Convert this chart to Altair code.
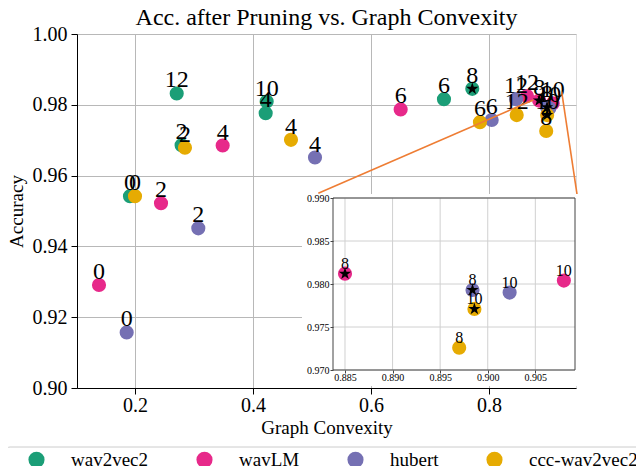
import altair as alt
import pandas as pd

FONT = "Liberation Serif"
STAR = ("M0,-1L0.2245,-0.309L0.9511,-0.309L0.3633,0.118L0.5878,0.809L0,0.382"
        "L-0.5878,0.809L-0.3633,0.118L-0.9511,-0.309L-0.2245,-0.309Z")

# ---------------- data ----------------
models = ["wav2vec2", "wavLM", "hubert", "ccc-wav2vec2"]
colors = ["#1b9e77", "#e7298a", "#7570b3", "#e6ab02"]
layers = [0, 2, 4, 6, 8, 10, 12]

conv_wav2vec2 = [0.1915, 0.2790, 0.4215, 0.7237, 0.7717, 0.4232, 0.2707]
acc_wav2vec2 = [0.9542, 0.9686, 0.9776, 0.9816, 0.9845, 0.9809, 0.9832]
conv_wavlm = [0.1390, 0.2441, 0.3486, 0.6503, 0.8850, 0.9080, 0.8644]
acc_wavlm = [0.9291, 0.9522, 0.9685, 0.9787, 0.9812, 0.9804, 0.9825]
conv_hubert = [0.1859, 0.3073, 0.5051, 0.8046, 0.8984, 0.9023, 0.8458]
acc_hubert = [0.9157, 0.9451, 0.9651, 0.9757, 0.9793, 0.9790, 0.9816]
conv_ccc = [0.2000, 0.2847, 0.4644, 0.7847, 0.8970, 0.8986, 0.8470]
acc_ccc = [0.9542, 0.9679, 0.9701, 0.9751, 0.9726, 0.9771, 0.9771]
best_layer = [8, 8, 8, 10]

x_ticks = [0.2, 0.4, 0.6, 0.8]
y_ticks = [0.90, 0.92, 0.94, 0.96, 0.98, 1.00]
inset_x_ticks = [0.885, 0.890, 0.895, 0.900, 0.905]
inset_y_ticks = [0.970, 0.975, 0.980, 0.985, 0.990]

# ---------------- layout ----------------
main_x_domain = [0.1017, 0.9475]
main_y_domain = [0.90, 1.00]
inset_x_domain = [0.88374, 0.90917]
inset_y_domain = [0.970, 0.990]
inset_x_range = [256, 498]   # pixels inside the plot area
inset_y_range = [336, 164]
conn_x = [0.5107, 0.9232]
conn_y = [0.9550, 0.9837]
conn_x2 = [0.8751, 0.9492]
conn_y2 = [0.98136, 0.9548]
backdrop = {"conv": [0.48305], "conv2": [0.95085], "acc": [0.9548], "acc2": [0.9006]}
legend_box = {"conv": [-0.0186], "conv2": [1.40], "acc": [0.88333], "acc2": [0.85]}

convs = [conv_wav2vec2, conv_wavlm, conv_hubert, conv_ccc]
accs = [acc_wav2vec2, acc_wavlm, acc_hubert, acc_ccc]
rows = []
for i, m in enumerate(models):
    for l, c, a in zip(layers, convs[i], accs[i]):
        rows.append({"model": m, "layer": str(l), "conv": c, "acc": a,
                     "best": 1 if l == best_layer[i] else 0})
df = pd.DataFrame(rows)

axis_common = dict(labelFont=FONT, labelColor="black", titleFont=FONT, titleColor="black",
                   titleFontWeight="normal", tickColor="black", domainColor="black",
                   gridColor="#b8b8b8", gridWidth=1, labelFlush=False, labelOverlap=False,
                   tickSize=6, labelFontSize=20, titleFontSize=19)

X = alt.X("conv:Q", scale=alt.Scale(domain=main_x_domain, nice=False, zero=False),
          axis=alt.Axis(orient="bottom", values=x_ticks, format=".1f", title="Graph Convexity",
                        grid=True, labelBaseline="alphabetic", labelPadding=17.5,
                        titleBaseline="alphabetic", titleY=45, **axis_common))
Y = alt.Y("acc:Q", scale=alt.Scale(domain=main_y_domain, nice=False, zero=False),
          axis=alt.Axis(orient="left", values=y_ticks, format=".2f", title="Accuracy", grid=True,
                        labelPadding=4, titleBaseline="alphabetic", titleAngle=270,
                        titleX=-55, titleY=177, **axis_common))
C = alt.Color("model:N", scale=alt.Scale(domain=models, range=colors),
              legend=alt.Legend(title=None, orient="none", legendX=-55, legendY=411,
                                direction="horizontal", columns=4, gridAlign="each",
                                symbolType="circle", symbolSize=260,
                                symbolStrokeWidth=0, symbolOpacity=1,
                                labelFont=FONT, labelFontSize=19, labelColor="black",
                                labelOffset=25, columnPadding=46, padding=5))

base = alt.Chart(df)

m_circles = base.mark_point(filled=True, shape="circle", size=200, opacity=1).encode(
    x=X, y=Y, color=C)
m_stars = base.transform_filter("datum.best == 1").mark_point(
    filled=True, shape=STAR, size=170, color="black", opacity=1).encode(x=X, y=Y)
m_text = base.mark_text(font=FONT, fontSize=24, dy=-6, baseline="alphabetic", color="black").encode(
    x=X, y=Y, text="layer:N")
m_conn = alt.Chart(pd.DataFrame({"conv": conn_x, "acc": conn_y, "conv2": conn_x2, "acc2": conn_y2})
                   ).mark_rule(color="#ee7d34", strokeWidth=1.6, clip=False).encode(
    x=X, y=Y, x2="conv2:Q", y2="acc2:Q")
m_backdrop = alt.Chart(pd.DataFrame(backdrop)).mark_rect(fill="white", clip=False).encode(
    x=X, y=Y, x2="conv2:Q", y2="acc2:Q")
m_legbox = alt.Chart(pd.DataFrame(legend_box)).mark_rect(
    fill="white", stroke="#cccccc", strokeWidth=1, cornerRadius=4, clip=False).encode(
    x=X, y=Y, x2="conv2:Q", y2="acc2:Q")

main = alt.layer(m_circles, m_stars, m_text, m_conn, m_backdrop, m_legbox)

# ---------------- inset axes ----------------
inset_axis_common = dict(labelFont=FONT, labelColor="black", tickColor="#444444", domain=False,
                         grid=False, labelFlush=False, labelOverlap=False, title=None, zindex=1,
                         labelFontSize=10, tickSize=3)
IX = alt.X("conv:Q", scale=alt.Scale(domain=inset_x_domain, range=inset_x_range, nice=False, zero=False),
           axis=alt.Axis(orient="bottom", offset=-18, values=inset_x_ticks, format=".3f",
                         labelBaseline="alphabetic", labelPadding=7.5, **inset_axis_common))
IY = alt.Y("acc:Q", scale=alt.Scale(domain=inset_y_domain, range=inset_y_range, nice=False, zero=False),
           axis=alt.Axis(orient="left", offset=-256, values=inset_y_ticks, format=".3f",
                         labelPadding=1, **inset_axis_common))

in_filter = ("datum.conv >= %r && datum.conv <= %r && datum.acc >= %r && datum.acc <= %r"
             % (inset_x_domain[0], inset_x_domain[1], inset_y_domain[0], inset_y_domain[1]))

gx_df = pd.DataFrame({"conv": inset_x_ticks, "acc": [inset_y_domain[0]] * len(inset_x_ticks),
                      "acc2": [inset_y_domain[1]] * len(inset_x_ticks)})
gy_df = pd.DataFrame({"acc": inset_y_ticks, "conv": [inset_x_domain[0]] * len(inset_y_ticks),
                      "conv2": [inset_x_domain[1]] * len(inset_y_ticks)})
frame_df = pd.DataFrame({"conv": [inset_x_domain[0]], "conv2": [inset_x_domain[1]],
                         "acc": [inset_y_domain[0]], "acc2": [inset_y_domain[1]]})

i_gx = alt.Chart(gx_df).mark_rule(color="#d0d0d0", strokeWidth=1).encode(x=IX, y=IY, y2="acc2:Q")
i_gy = alt.Chart(gy_df).mark_rule(color="#d0d0d0", strokeWidth=1).encode(x=IX, x2="conv2:Q", y=IY)
ibase = base.transform_filter(in_filter)
i_circles = ibase.mark_point(filled=True, shape="circle", size=200, opacity=1).encode(
    x=IX, y=IY, color=C)
i_stars = ibase.transform_filter("datum.best == 1").mark_point(
    filled=True, shape=STAR, size=170, color="black", opacity=1).encode(x=IX, y=IY)
i_text = ibase.mark_text(font=FONT, fontSize=16, dy=-5, baseline="alphabetic", color="black").encode(
    x=IX, y=IY, text="layer:N")
i_frame = alt.Chart(frame_df).mark_rect(filled=False, stroke="#444444", strokeWidth=1).encode(
    x=IX, x2="conv2:Q", y=IY, y2="acc2:Q")

inset = alt.layer(i_gx, i_gy, i_circles, i_stars, i_text, i_frame)

chart = alt.layer(main, inset).resolve_scale(x="independent", y="independent").properties(
    width=499, height=354,
    title=alt.TitleParams("Acc. after Pruning vs. Graph Convexity", font=FONT, fontSize=24,
                          fontWeight="normal", color="black", anchor="middle",
                          frame="group", offset=-6),
    autosize=alt.AutoSizeParams(type="none"),
    padding={"left": 69, "top": 26, "right": 60, "bottom": 78},
).configure_view(stroke="black", strokeWidth=1).configure(background="white")

chart.save("out.html", embed_options={"renderer": "svg", "actions": False})
